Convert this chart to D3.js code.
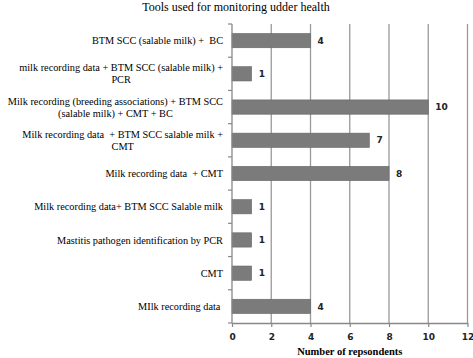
<!DOCTYPE html>
<html>
<head>
<meta charset="utf-8">
<script src="https://cdn.jsdelivr.net/npm/d3@7"></script>
<style>
  body { margin: 0; background: #fff; }
  svg { display: block; }
</style>
</head>
<body>
<div id="chart"></div>
<script>
// categories, top to bottom; each entry is the label split into its lines
var categories = [
    ['BTM SCC (salable milk) +  BC'],
    ['milk recording data + BTM SCC (salable milk) +', 'PCR'],
    ['Milk recording (breeding associations) + BTM SCC', '(salable milk) + CMT + BC'],
    ['Milk recording data  + BTM SCC salable milk +', 'CMT'],
    ['Milk recording data  + CMT'],
    ['Milk recording data+ BTM SCC Salable milk'],
    ['Mastitis pathogen identification by PCR'],
    ['CMT'],
    ['MIlk recording data ']
];
var respondents = [4, 1, 10, 7, 8, 1, 1, 1, 4];
var xTicks = [0, 2, 4, 6, 8, 10, 12];

var chartTitle = 'Tools used for monitoring udder health';
var xTitle = 'Number of repsondents';

var width = 473, height = 358;
var margin = {top: 24, right: 5.5, bottom: 35, left: 232};
var innerW = width - margin.left - margin.right;
var innerH = height - margin.top - margin.bottom;

var svg = d3.select('#chart').append('svg')
    .attr('width', width)
    .attr('height', height);

var keys = categories.map(function(d, i) { return i; });

var x = d3.scaleLinear().domain([0, 12]).range([0, innerW]);
var y = d3.scaleBand().domain(keys).range([0, innerH]).paddingInner(0.57).paddingOuter(0.285);
var yb = d3.scaleBand().domain(keys).range([0, innerH]);

var serif = '"Liberation Serif", "Times New Roman", serif';

svg.append('text')
    .attr('x', 236)
    .attr('y', 11)
    .attr('text-anchor', 'middle')
    .style('font-family', serif)
    .style('font-size', '12px')
    .text(chartTitle);

var g = svg.append('g')
    .attr('transform', 'translate(' + margin.left + ',' + margin.top + ')');

// vertical gridlines
g.selectAll('line.grid')
    .data(xTicks.slice(1))
    .enter().append('line')
    .attr('class', 'grid')
    .attr('x1', function(d) { return x(d); })
    .attr('x2', function(d) { return x(d); })
    .attr('y1', 0)
    .attr('y2', innerH)
    .style('stroke', '#9a9a9a')
    .style('stroke-width', 1.3);

g.selectAll('rect.bar')
    .data(respondents)
    .enter().append('rect')
    .attr('class', 'bar')
    .attr('x', 0)
    .attr('y', function(d, i) { return y(i); })
    .attr('width', function(d) { return x(d); })
    .attr('height', y.bandwidth())
    .style('fill', '#7b7b7b')
    .style('stroke', '#666')
    .style('stroke-width', 0.6);

g.selectAll('text.val')
    .data(respondents)
    .enter().append('text')
    .attr('class', 'val')
    .attr('x', function(d) { return x(d) + 7; })
    .attr('y', function(d, i) { return y(i) + y.bandwidth() / 2; })
    .attr('dy', '0.35em')
    .style('font-family', '"DejaVu Sans", Verdana, sans-serif')
    .style('font-size', '9px')
    .style('font-weight', 'bold')
    .style('fill', '#222')
    .text(function(d) { return d; });

// left axis: line with ticks at category boundaries
var yAxis = g.append('g');
yAxis.append('line')
    .attr('x1', 0).attr('x2', 0)
    .attr('y1', 0).attr('y2', innerH)
    .style('stroke', '#888')
    .style('stroke-width', 1.3);
yAxis.selectAll('line.tk')
    .data(keys.concat([keys.length]))
    .enter().append('line')
    .attr('class', 'tk')
    .attr('x1', -4).attr('x2', 0)
    .attr('y1', function(d) { return d * yb.step(); })
    .attr('y2', function(d) { return d * yb.step(); })
    .style('stroke', '#888')
    .style('stroke-width', 1.2);

// category labels: block right aligned, lines centred within the block
var labels = g.selectAll('g.lab')
    .data(categories)
    .enter().append('g')
    .attr('class', 'lab')
    .attr('transform', function(d, i) {
        return 'translate(-9,' + (yb(i) + yb.bandwidth() / 2) + ')';
    });
labels.each(function(lines) {
    var node = d3.select(this);
    var texts = lines.map(function(s, j) {
        return node.append('text')
            .attr('y', (j - (lines.length - 1) / 2) * 12)
            .attr('dy', '0.35em')
            .style('font-family', serif)
            .style('font-size', '10.3px')
            .style('white-space', 'pre')
            .attr('xml:space', 'preserve')
            .text(s);
    });
    var maxW = d3.max(texts, function(t) { return t.node().getComputedTextLength(); });
    texts.forEach(function(t) {
        t.attr('x', -maxW / 2).attr('text-anchor', 'middle');
    });
});

// bottom axis
var xAxis = g.append('g')
    .attr('transform', 'translate(0,' + innerH + ')')
    .call(d3.axisBottom(x).tickValues(xTicks).tickSize(4).tickSizeOuter(0));
xAxis.select('.domain').style('stroke', '#888').style('stroke-width', 1.3);
xAxis.selectAll('.tick line').style('stroke', '#888').style('stroke-width', 1.2);
xAxis.selectAll('.tick text')
    .attr('dy', '1.1em')
    .style('font-family', '"DejaVu Sans", Verdana, sans-serif')
    .style('font-size', '9px')
    .style('font-weight', 'bold')
    .style('fill', '#222');

svg.append('text')
    .attr('x', margin.left + innerW / 2)
    .attr('y', 355)
    .attr('text-anchor', 'middle')
    .style('font-family', serif)
    .style('font-size', '10.5px')
    .style('font-weight', 'bold')
    .text(xTitle);
</script>
</body>
</html>
